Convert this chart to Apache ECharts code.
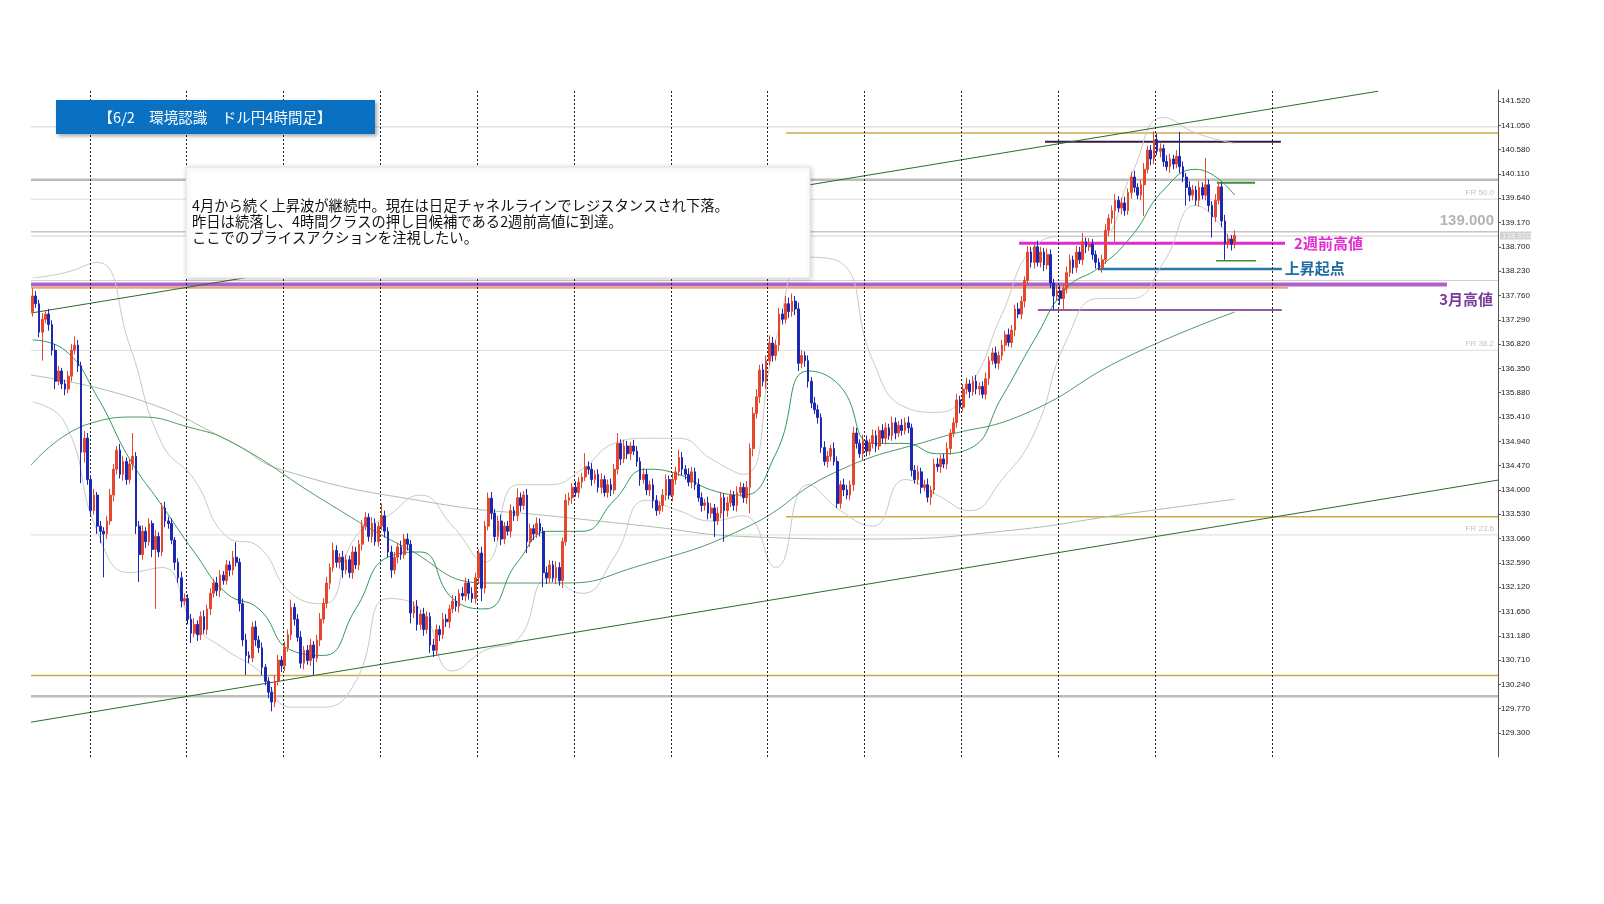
<!DOCTYPE html>
<html><head><meta charset="utf-8">
<script src="https://cdn.jsdelivr.net/npm/echarts@6/dist/echarts.min.js"></script>
<style>html,body{margin:0;padding:0;background:#fff;}#c{width:1604px;height:904px;}</style>
</head><body><div id="c"></div>
<script>
// ---- data (USD/JPY 4H) ----
const firstOpen = 137.45;
const closes = [
137.75,137.60,137.05,137.30,137.40,137.20,136.70,136.10,136.30,136.05, 135.95,136.20,136.70,136.80,136.40,134.73,135.00,134.20,133.60,133.90, 133.30,133.20,133.15,133.40,133.90,134.40,134.77,134.30,134.55,134.20,
134.50,134.65,133.30,132.75,133.20,133.00,133.35,132.85,133.10,132.80, 133.65,133.40,133.35,133.03,132.60,132.30,131.85,131.90,131.50,131.23, 131.40,131.20,131.55,131.30,131.70,132.00,132.20,132.05,132.35,132.25,
132.55,132.45,132.70,132.60,131.80,131.10,130.80,130.75,131.35,131.10, 130.95,130.57,130.30,130.09,129.90,130.30,130.71,130.60,130.95,131.20, 131.73,131.50,131.15,130.65,130.90,130.70,131.00,130.75,131.10,131.50,
131.81,132.20,132.50,132.83,132.60,132.70,132.45,132.65,132.40,132.80, 132.55,132.95,133.30,133.47,133.10,133.35,133.00,133.30,133.50,133.20, 132.80,132.45,132.70,132.90,132.75,133.05,132.95,131.62,131.75,131.40,
131.60,131.30,131.55,131.00,130.90,131.30,131.20,131.50,131.45,131.70, 131.85,131.75,132.00,131.95,132.20,132.00,131.90,132.30,132.78,132.10, 133.30,133.84,133.55,133.10,133.40,133.05,133.30,133.20,133.60,133.50,
133.85,133.70,133.90,133.00,133.25,133.15,133.35,133.20,132.40,132.30, 132.55,132.30,132.50,132.25,133.00,133.80,133.85,134.05,133.95,134.15, 134.25,134.45,134.40,134.20,134.30,134.05,134.20,133.95,134.10,134.00,
134.40,134.90,134.60,134.85,134.70,134.85,134.75,134.55,134.20,134.30, 134.00,134.10,133.80,133.60,133.70,133.90,134.20,133.90,134.20,134.35, 134.63,134.40,134.30,134.15,134.35,134.10,133.85,133.70,133.75,133.55,
133.65,133.40,133.55,133.85,133.60,133.75,133.90,133.70,133.95,134.05, 133.85,134.05,134.80,135.48,135.80,136.32,136.10,136.50,136.84,136.60, 136.80,137.40,137.30,137.60,137.45,137.65,137.50,136.45,136.60,136.50,
136.10,135.68,135.55,135.40,134.82,134.55,134.65,134.80,134.55,133.74, 134.10,134.00,133.90,134.10,135.10,134.90,134.70,134.95,134.75,134.90, 135.05,134.85,135.15,135.00,135.20,135.05,135.30,135.10,135.25,135.15,
135.30,135.20,134.38,134.20,134.35,134.05,134.10,133.86,134.00,134.50, 134.45,134.60,134.50,134.80,135.10,135.30,135.74,135.60,135.95,136.05, 135.90,136.10,135.95,136.00,135.85,136.15,136.50,136.65,136.45,136.60,
136.80,137.00,136.85,137.09,137.50,137.40,137.65,138.05,138.60,138.40, 138.70,138.40,138.60,138.35,138.55,138.00,137.75,137.85,137.70,137.90, 138.20,138.45,138.30,138.60,138.45,138.80,138.70,138.75,138.55,138.40,
138.30,138.45,139.02,139.25,139.40,139.60,139.45,139.55,139.40,139.75, 140.05,139.85,139.70,139.90,140.20,140.57,140.40,140.77,140.55,140.60, 140.35,140.25,140.40,140.30,140.45,140.25,140.05,139.85,139.70,139.80,
139.60,139.85,139.70,139.90,139.50,139.28,139.60,139.86,139.20,138.77, 138.85,138.75,138.92
];
// wick lengths, in hundredths of a yen
const upWick = [
15,10,8,12,6,10,8,12,10,6, 8,10,12,17,10,8,14,10,8,12, 6,10,8,10,12,10,8,12,10,8,
10,45,8,10,12,8,10,6,12,8, 10,12,8,10,6,8,12,10,8,10, 12,8,10,12,8,10,8,12,10,8,
10,8,12,29,8,10,12,8,10,12, 8,10,6,8,10,12,10,8,12,10, 15,8,10,12,8,10,12,8,10,12,
10,12,8,15,10,8,12,10,8,12, 10,8,12,10,8,12,10,8,24,10, 8,12,10,8,12,10,11,8,10,12,
8,12,10,8,12,10,8,12,10,8, 12,10,8,12,10,8,12,10,8,12, 10,11,12,8,10,12,8,10,12,8,
18,10,8,12,10,8,12,10,8,12, 10,8,12,10,8,12,10,8,12,10, 8,26,10,12,8,10,12,8,10,12,
10,20,8,12,10,8,12,10,8,12, 10,8,12,10,8,12,10,8,12,10, 15,10,8,12,10,8,12,10,8,12,
10,8,12,10,8,12,10,8,12,10, 8,12,10,12,15,10,12,10,15,12, 10,12,10,15,12,15,10,12,10,8,
10,8,12,10,8,12,10,8,12,10, 8,12,10,8,12,10,8,12,10,8, 12,10,8,12,10,8,12,10,8,12,
10,12,8,10,12,8,10,12,8,10, 12,8,10,12,8,10,12,8,10,12, 8,10,12,8,10,12,8,10,12,8,
10,8,12,10,8,12,10,8,12,10, 8,12,10,8,12,10,8,12,10,8, 12,10,8,12,10,17,8,12,10,8,
8,10,12,8,10,12,8,10,12,8, 10,12,8,10,12,8,10,16,12,10, 8,12,10,8,12,47,10,8,12,10,
8,12,10,52,10,8,12,10,8,12, 10,8,10
];
const lowWick = [
10,8,10,55,8,12,10,15,8,10, 12,8,10,8,12,60,20,10,12,8, 15,23,84,10,8,12,10,8,12,10,
8,12,15,53,10,12,8,15,115,10, 8,12,10,8,15,10,12,8,10,19, 8,12,10,8,10,12,8,10,12,8,
8,12,10,8,15,12,38,10,8,12, 10,15,8,12,18,10,8,12,10,8, 10,12,8,10,12,8,10,33,8,12,
8,10,12,8,10,12,15,8,10,12, 8,10,12,8,10,12,8,10,8,12, 10,15,8,12,10,8,12,20,10,12,
10,12,8,15,13,10,12,8,10,12, 8,10,12,8,10,12,8,10,12,25, 10,8,12,10,8,12,10,8,12,10,
10,12,8,22,10,12,8,10,28,12, 10,8,12,10,15,8,10,12,8,10, 12,8,10,12,8,10,12,8,10,12,
8,10,12,8,10,12,8,10,12,8, 10,12,15,10,8,12,10,8,12,10, 8,12,10,8,12,10,8,12,10,12,
10,31,8,10,60,12,8,10,12,8, 10,12,50,15,10,12,10,15,10,12, 10,12,10,8,12,10,12,15,10,12,
12,10,8,12,10,8,12,10,8,9, 10,12,8,10,12,10,8,12,10,8, 10,12,8,10,12,8,10,12,8,10,
8,10,12,8,10,12,8,10,15,8, 10,12,8,10,12,8,10,12,8,10, 12,8,10,12,8,10,12,8,10,12,
10,12,8,10,12,8,10,12,8,10, 12,8,10,12,8,10,27,8,12,22, 10,8,12,10,8,10,12,8,10,12,
5,10,8,12,10,60,8,12,10,8, 12,10,8,10,60,8,12,10,8,12, 10,8,12,10,8,12,10,35,12,10,
10,12,8,10,12,40,10,8,12,32, 10,12,8
];
const yTicks = [129.300,129.770,130.240,130.710,131.180,131.650,132.120,132.590,133.060,133.530,134.000,134.470,134.940,135.410,135.880,136.350,136.820,137.290,137.760,138.230,138.700,139.170,139.640,140.110,140.580,141.050,141.520];
// week separators (bar index positions)
const separators = [17.75,47.5,77.5,107.5,137.5,167.5,197.5,227.5,257.5,287.5,317.5,347.5,383.5];
// horizontal levels drawn on the chart
const levelPrice = [141.02,140.90,140.73,140.00,139.94,139.62,138.99,138.91,138.77,138.43,138.27,138.05,137.97,137.91,137.48,136.70,133.48,133.13,130.41,130.01];
const levelFrom  = [-0.5,233.2,313.3,-0.5,366.5,-0.5,-0.5,-0.5,305.3,366.2,329.7,-0.5,-0.5,-0.5,311.1,-0.5,233.2,-0.5,-0.5,-0.5];
const levelTo    = [453.5,453.5,386.3,453.5,378.3,453.5,453.5,453.5,387.6,378.6,386.6,453.5,437.7,388.5,386.6,453.5,453.5,453.5,453.5,453.5];
// channel lines
const upperChannelX = [-0.5, 416.4], upperChannelY = [137.42, 141.71];
const lowerChannelX = [-0.5, 453.5], lowerChannelY = [129.51, 134.19];
// indicator lines: [bar index, price]
const maShort = [[0,136.9],[10,136.7],[20,135.8],[30,134.6],[40,133.7],[50,132.8],[60,132.0],[70,131.7],[80,130.9],[90,130.8],[100,131.7],[110,132.7],[120,132.8],[130,131.9],[140,131.7],[150,132.6],[160,133.2],[170,133.2],[180,133.8],[190,134.4],[200,134.3],[210,134.0],[220,133.9],[230,134.7],[240,136.3],[250,136.0],[260,134.9],[270,134.9],[280,134.7],[290,134.8],[300,135.8],[310,136.9],[320,137.9],[330,138.3],[340,138.9],[350,139.8],[360,140.2],[372,139.7]];
const bandUpper = [[0,138.1],[10,138.2],[20,138.4],[30,136.8],[40,134.9],[50,134.2],[60,133.1],[70,132.9],[80,132.0],[90,131.8],[100,133.1],[110,133.5],[120,133.9],[130,133.3],[140,132.6],[150,134.1],[160,134.1],[170,134.4],[180,134.9],[190,135.0],[200,135.0],[210,134.6],[220,134.3],[230,136.9],[240,138.5],[250,138.4],[260,136.5],[270,135.6],[280,135.5],[290,136.0],[300,137.4],[310,138.7],[320,138.9],[330,138.9],[340,140.1],[350,141.2],[360,140.9],[372,140.7]];
const bandLower = [[0,135.7],[10,135.3],[20,133.2],[30,132.4],[40,132.5],[50,131.4],[60,130.9],[70,130.5],[80,129.8],[90,129.8],[100,130.3],[110,131.9],[120,131.7],[130,130.5],[140,130.9],[150,131.1],[160,132.3],[170,132.0],[180,132.7],[190,133.8],[200,133.6],[210,133.4],[220,133.5],[230,132.5],[240,134.1],[250,133.6],[260,133.3],[270,134.2],[280,133.9],[290,133.6],[300,134.2],[310,135.1],[320,136.9],[330,137.7],[340,137.7],[350,138.4],[360,139.5],[372,138.7]];
const maMid = [[-0.5,134.48],[18,135.29],[33,135.41],[48,135.22],[62,134.91],[90,133.8],[115,132.9],[140,132.2],[165,132.2],[186,132.5],[221,133.28],[248,134.33],[280,135.0],[307,135.47],[338,136.55],[372,137.44]];
const maLong = [[-0.5,136.22],[33,135.74],[62,134.91],[77,134.39],[124,133.75],[163,133.48],[190,133.3],[220,133.1],[260,133.05],[300,133.2],[340,133.55],[372,133.82]];

// ---- styles ----
const levelStyle = [
 ['#d0d0d0',1],['#c8aa48',1.5],['#3b1a3b',2],['#bdbdbd',2.5],['#3c8c3c',2],['#dcdcdc',1],['#c6c6c6',1.5],['#d0d0d0',1],
 ['#e12ad2',3],['#3c8c3c',1.5],['#2878aa',2.5],['#d0d0d0',1],['#b060c8',4],['#e4a878',2],['#6b2a7b',1.5],['#dcdcdc',1],
 ['#c8aa48',1.5],['#dcdcdc',1],['#c8aa48',1.5],['#bdbdbd',2.5]
];

const candles = closes.map((c, i) => {
  const o = i === 0 ? firstOpen : closes[i - 1];
  return [i, o, c, Math.min(o, c) - lowWick[i] / 100, Math.max(o, c) + upWick[i] / 100];
});

const chart = echarts.init(document.getElementById('c'), null, {renderer: 'canvas'});
const series = [];
levelPrice.forEach((p, k) => {
  series.push({type: 'line', data: [[levelFrom[k], p], [levelTo[k], p]], symbol: 'none', silent: true,
    lineStyle: {color: levelStyle[k][0], width: levelStyle[k][1]}, z: 1});
});
const curve = (data, color, width) => ({type: 'line', data: data, symbol: 'none', silent: true, smooth: 0.5,
  lineStyle: {color: color, width: width}, z: 2});
series.push(curve(bandUpper, '#c9c9c9', 1));
series.push(curve(bandLower, '#c9c9c9', 1));
series.push(curve(maLong, '#a9c2a9', 1));
series.push(curve(maMid, '#4f9a62', 1));
series.push(curve(maShort, '#2f9a5a', 1));
series.push({type: 'line', data: upperChannelX.map((x, k) => [x, upperChannelY[k]]), symbol: 'none', silent: true,
  lineStyle: {color: '#2f6a2f', width: 1}, z: 3});
series.push({type: 'line', data: lowerChannelX.map((x, k) => [x, lowerChannelY[k]]), symbol: 'none', silent: true,
  lineStyle: {color: '#2f6a2f', width: 1}, z: 3});
series.push({type: 'line', data: [], symbol: 'none', silent: true,
  markLine: {silent: true, symbol: ['none', 'none'], label: {show: false},
    lineStyle: {color: '#222', width: 1, type: [2, 2]},
    data: separators.map(v => ({xAxis: v}))}});
series.push({type: 'candlestick', data: candles, encode: {x: 0, y: [1, 2, 3, 4]}, barWidth: 2.2, z: 5,
  itemStyle: {color: '#e4472e', color0: '#1d28b2', borderColor: '#e4472e', borderColor0: '#1d28b2', borderWidth: 1}});

chart.setOption({
  animation: false,
  backgroundColor: '#ffffff',
  grid: {left: 31, right: 106, top: 90, bottom: 147, containLabel: false},
  xAxis: {type: 'value', min: -0.5, max: 453.5, show: false, splitLine: {show: false}},
  yAxis: {type: 'value', position: 'right', min: 128.836, max: 141.733, scale: true,
    splitLine: {show: false},
    axisLine: {show: true, onZero: false, lineStyle: {color: '#555', width: 1}},
    axisTick: {show: true, length: 3, customValues: yTicks, lineStyle: {color: '#555'}},
    axisLabel: {customValues: yTicks, formatter: v => v.toFixed(3), fontSize: 8, color: '#222', margin: 3,
      fontFamily: 'Liberation Sans'}},
  series: series
});

// ---- annotations ----
const px = v => chart.convertToPixel({xAxisIndex: 0}, v);
const py = v => chart.convertToPixel({yAxisIndex: 0}, v);
const jp = '"Noto Sans CJK JP", sans-serif';
const lastClose = closes[closes.length - 1];
const txt = (text, x, y, fill, size, weight, align, fam) => ({type: 'text', x: x, y: y, z: 50,
  style: {text: text, fill: fill, fontSize: size, fontWeight: weight || 'normal', fontFamily: fam || jp,
    align: align || 'left', textAlign: align || 'left', verticalAlign: 'middle', textVerticalAlign: 'middle'}});

chart.setOption({graphic: [
  {type: 'rect', shape: {x: 56, y: 100, width: 319, height: 34}, z: 40,
   style: {fill: '#0a70c2', shadowBlur: 4, shadowOffsetX: 2, shadowOffsetY: 2, shadowColor: 'rgba(0,0,0,0.35)'}},
  txt('【6/2　環境認識　ドル円4時間足】', 215, 117, '#ffffff', 14.5, 'normal', 'center'),
  {type: 'rect', shape: {x: 186, y: 167, width: 624, height: 111}, z: 40,
   style: {fill: '#ffffff', stroke: '#e4e4e4', lineWidth: 1, shadowBlur: 5, shadowOffsetX: 1, shadowOffsetY: 1, shadowColor: 'rgba(0,0,0,0.18)'}},
  txt('4月から続く上昇波が継続中。現在は日足チャネルラインでレジスタンスされ下落。', 192, 206, '#111', 14.3),
  txt('昨日は続落し、4時間クラスの押し目候補である2週前高値に到達。', 192, 222, '#111', 14.3),
  txt('ここでのプライスアクションを注視したい。', 192, 238, '#111', 14.3),
  txt('2週前高値', px(387.6) + 9, py(138.77), '#e12ad2', 15, 'bold'),
  txt('上昇起点', px(386.6) + 3, py(138.27) - 1, '#1f6aa3', 15, 'bold'),
  txt('3月高値', 1493, py(137.97) + 15, '#7a3a9c', 15, 'bold', 'right'),
  txt('139.000', 1494, py(138.99) - 11, '#b4b4b4', 15, 'bold', 'right', 'Liberation Sans'),
  txt('FR 50.0', 1494, py(139.62) - 6, '#c4c4c4', 8, 'normal', 'right', 'Liberation Sans'),
  txt('FR 38.2', 1494, py(136.70) - 6, '#c4c4c4', 8, 'normal', 'right', 'Liberation Sans'),
  txt('FR 23.6', 1494, py(133.13) - 6, '#c4c4c4', 8, 'normal', 'right', 'Liberation Sans'),
  {type: 'rect', shape: {x: 1500, y: py(lastClose) - 4, width: 31, height: 8}, z: 45, style: {fill: '#d2d2d2'}},
  txt(lastClose.toFixed(3), 1502, py(lastClose), '#f4f4f4', 8, 'normal', 'left', 'Liberation Sans')
]});
</script>
</body></html>
